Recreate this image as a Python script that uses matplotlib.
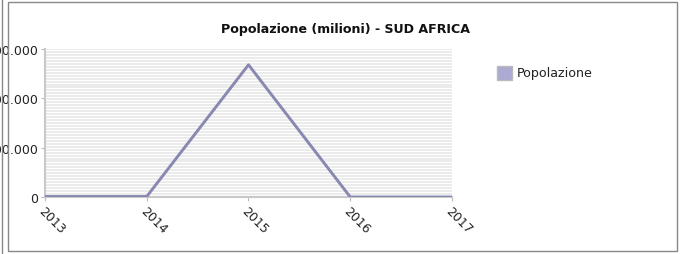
import matplotlib.pyplot as plt
from matplotlib.patches import Rectangle
from matplotlib.lines import Line2D
import numpy as np

# данные графика
anni = ['2013', '2014', '2015', '2016', '2017']
popolazione = [1, 1, 268, 0, 0]
y_ticks = [0, 100, 200, 300]
y_labels = ['0', '100.000', '200.000', '300.000']

fig = plt.figure(figsize=(6.81, 2.55), dpi=100)
ax = fig.add_axes([45 / 681, 1 - 198 / 255, 407 / 681, 148 / 255])

# полосатая сетка
for v in np.arange(0, 301, 6):
    ax.axhline(v, color='#e6e6e6', lw=1.1, zorder=0)

x = np.arange(len(anni))
ax.plot(x, popolazione, color='#8888b0', lw=2.1, zorder=3)

ax.set_xlim(0, 4)
ax.set_ylim(0, 300)
ax.set_xticks(x)
ax.set_xticklabels(anni, rotation=-45, ha='left', va='top', rotation_mode='anchor',
                   fontsize=9, color='#222222')
ax.set_yticks(y_ticks)
ax.set_yticklabels(y_labels, fontsize=9, color='#222222')
ax.tick_params(axis='both', length=3, color='#bbbbbb', pad=2)
for s in ['top', 'right']:
    ax.spines[s].set_visible(False)
ax.spines['left'].set_color('#c8c8c8')
ax.spines['left'].set_linewidth(1.5)
ax.spines['bottom'].set_color('#c8c8c8')
ax.spines['bottom'].set_linewidth(1.5)

# заголовок
fig.text(345 / 681, 1 - 29 / 255, 'Popolazione (milioni) - SUD AFRICA',
         ha='center', va='center', fontsize=9.1, fontweight='bold', color='#111111')

# легенда
fig.patches.append(Rectangle((497 / 681, 1 - 81 / 255), 15 / 681, 14 / 255,
                             transform=fig.transFigure, facecolor='#aaaad2',
                             edgecolor='#bbbbbb', lw=1))
fig.text(517 / 681, 1 - 74 / 255, 'Popolazione', ha='left', va='center',
         fontsize=9.1, color='#222222')

# рамки
fig.patches.append(Rectangle((8 / 681, 3 / 255), 669 / 681, 249 / 255,
                             transform=fig.transFigure, fill=False,
                             edgecolor='#888888', lw=1))
fig.lines.append(Line2D([1.5 / 681, 1.5 / 681], [0, 1], transform=fig.transFigure,
                        color='#888888', lw=1))

fig.savefig('out.png', dpi=100)
